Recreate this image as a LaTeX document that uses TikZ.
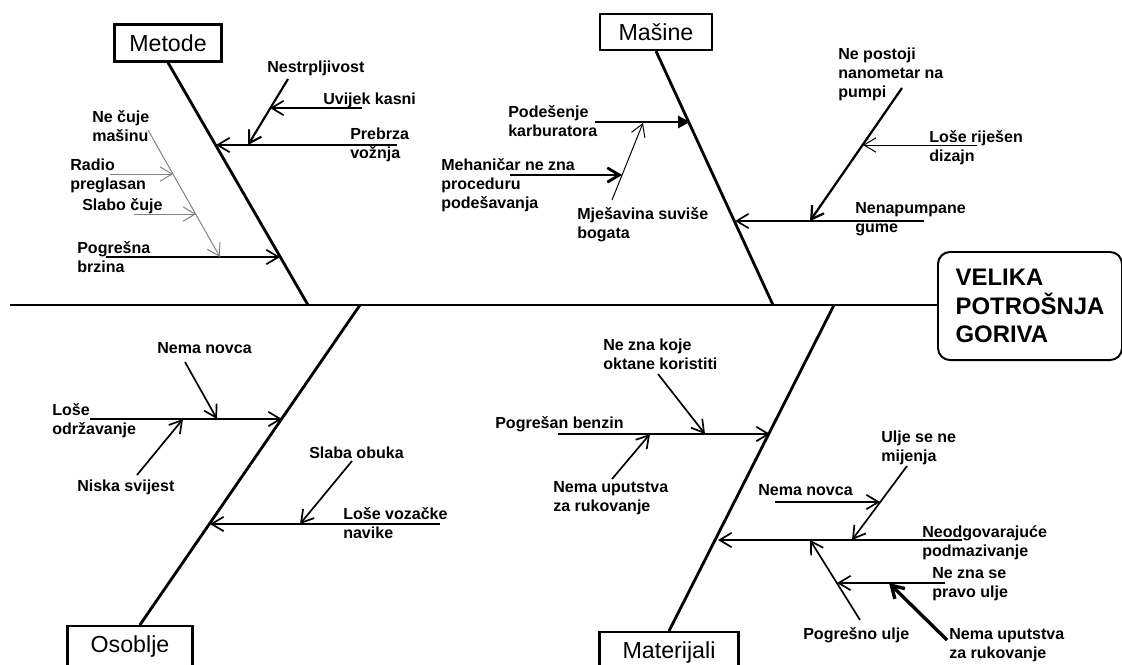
\documentclass[tikz,border=0pt]{standalone}
\usepackage{fontspec}
\setmainfont{Liberation Sans}
\usetikzlibrary{arrows.meta, calc}

\tikzset{
    cat/.style={draw, line width=1.6pt, font=\fontsize{16.5}{19}\selectfont, inner sep=0pt},
    lowcat/.style={cat, anchor=north, text height=0.67cm, text depth=0.5cm},
    lbl/.style={font=\bfseries\fontsize{11.4}{13.7}\selectfont, anchor=base west, align=left, inner sep=0pt},
    lbltwo/.style={lbl, yshift=-13.7pt},
    lblthree/.style={lbl, yshift=-27.4pt},
    spine/.style={line width=2.1pt},
    bone/.style={line width=2pt},
    cause/.style={line width=1.2pt, -{Straight Barb[length=3mm, width=3.6mm]}},
    weak/.style={cause, line width=0.7pt},
    faint/.style={weak, gray},
    heavy/.style={cause, line width=2pt},
}

\begin{document}
\begin{tikzpicture}[x=0.025cm, y=-0.025cm]
    \useasboundingbox (0,0) rectangle (1122,664);
    \clip (0,0) rectangle (1122,664);

    % effect and spine
    \node[draw, line width=1.4pt, rounded corners=3mm, minimum width=4.6cm, minimum height=2.7cm, anchor=west, align=left, font=\bfseries\fontsize{17}{20.5}\selectfont] (effect) at (937,306) {VELIKA\\POTROŠNJA\\GORIVA};
    \coordinate (tail) at (10,305);
    \draw[spine] (tail) -- (tail -| effect.west);

    % categories
    \node[cat, minimum width=2.675cm, minimum height=0.925cm] (metode) at (168,43) {Metode};
    \node[cat, minimum width=2.8cm, minimum height=0.9cm] (masine) at (656,32) {Mašine};
    \node[lowcat, minimum width=3.125cm] (osoblje) at (130,625) {Osoblje};
    \node[lowcat, minimum width=3.475cm] (materijali) at (669,631) {Materijali};

    \coordinate (jMet) at (308,305);
    \coordinate (jMas) at (773,305);
    \coordinate (jOso) at (360,305);
    \coordinate (jMat) at (834,305);
    \draw[bone] (metode.south) -- (jMet);
    \draw[bone] (masine.south) -- (jMas);
    \draw[bone] ([xshift=7pt]osoblje.north) -- (jOso);
    \draw[bone] (materijali.north) -- (jMat);

    % Metode
    \node[lbl] (nestr) at (267,72) {Nestrpljivost};
    \node[lbl] (uvijek) at (323,104) {Uvijek kasni};
    \node[lbltwo] (prebrza) at (350,139) {Prebrza\\vožnja};
    \node[lbltwo] (necuje) at (92,122) {Ne čuje\\mašinu};
    \node[lbltwo] (radio) at (70,170) {Radio\\preglasan};
    \node[lbl] (slabo) at (82,210) {Slabo čuje};
    \node[lbltwo] (pogbrz) at (77,253) {Pogrešna\\brzina};
    \coordinate (prebrza-s) at (397,145);  \coordinate (prebrza-e) at (216,145);
    \coordinate (nestr-s) at (288,79);     \coordinate (nestr-e) at (248,145);
    \coordinate (uvijek-s) at (362,108);   \coordinate (uvijek-e) at (270,108);
    \coordinate (pogbrz-s) at (106,257);   \coordinate (pogbrz-e) at (280,257);
    \coordinate (necuje-s) at (148,130);   \coordinate (necuje-e) at (220,257);
    \coordinate (radio-s) at (110,174);    \coordinate (radio-e) at (173,174);
    \coordinate (slabo-s) at (134,214);    \coordinate (slabo-e) at (196,214);
    \draw[cause] (prebrza-s) -- (prebrza-e);
    \draw[cause, line width=1.5pt] (nestr-s) -- (nestr-e);
    \draw[cause] (uvijek-s) -- (uvijek-e);
    \draw[cause] (pogbrz-s) -- (pogbrz-e);
    \draw[faint] (necuje-s) -- (necuje-e);
    \draw[faint] (radio-s) -- (radio-e);
    \draw[faint] (slabo-s) -- (slabo-e);

    % Masine
    \node[lbltwo] (podes) at (508,117) {Podešenje\\karburatora};
    \node[lblthree] (mehan) at (441,170) {Mehaničar ne zna\\proceduru\\podešavanja};
    \node[lbltwo] (mjes) at (577,219) {Mješavina suviše\\bogata};
    \node[lblthree] (nepost) at (838,59) {Ne postoji\\nanometar na\\pumpi};
    \node[lbltwo] (loserij) at (929,142) {Loše riješen\\dizajn};
    \node[lbltwo] (nenap) at (855,213) {Nenapumpane\\gume};
    \coordinate (podes-s) at (595,122);    \coordinate (podes-e) at (690,122);
    \coordinate (mehan-s) at (510,175);    \coordinate (mehan-e) at (622,175);
    \coordinate (mjes-s) at (612,200);     \coordinate (mjes-e) at (643,123);
    \coordinate (nenap-s) at (924,221);    \coordinate (nenap-e) at (735,221);
    \coordinate (nepost-s) at (902,88);    \coordinate (nepost-e) at (810,221);
    \coordinate (loserij-s) at (977,145);  \coordinate (loserij-e) at (863,145);
    \draw[line width=2pt, -{Triangle[length=3mm, width=3mm]}] (podes-s) -- (podes-e);
    \draw[heavy] (mehan-s) -- (mehan-e);
    \draw[weak] (mjes-s) -- (mjes-e);
    \draw[cause] (nenap-s) -- (nenap-e);
    \draw[cause, line width=1.6pt] (nepost-s) -- (nepost-e);
    \draw[weak] (loserij-s) -- (loserij-e);

    % Osoblje
    \node[lbl] (nemanov) at (157,353) {Nema novca};
    \node[lbltwo] (loseodr) at (52,415) {Loše\\održavanje};
    \node[lbl] (niska) at (77,491) {Niska svijest};
    \node[lbl] (slaba) at (309,458) {Slaba obuka};
    \node[lbltwo] (losevoz) at (343,519) {Loše vozačke\\navike};
    \coordinate (loseodr-s) at (90,419);   \coordinate (loseodr-e) at (282,419);
    \coordinate (nemanov-s) at (185,362);  \coordinate (nemanov-e) at (217,419);
    \coordinate (niska-s) at (137,475);    \coordinate (niska-e) at (183,419);
    \coordinate (losevoz-s) at (440,524);  \coordinate (losevoz-e) at (210,524);
    \coordinate (slaba-s) at (352,461);    \coordinate (slaba-e) at (300,524);
    \draw[cause] (loseodr-s) -- (loseodr-e);
    \draw[cause] (nemanov-s) -- (nemanov-e);
    \draw[cause] (niska-s) -- (niska-e);
    \draw[cause] (losevoz-s) -- (losevoz-e);
    \draw[cause] (slaba-s) -- (slaba-e);

    % Materijali
    \node[lbltwo] (nezna) at (603,350) {Ne zna koje\\oktane koristiti};
    \node[lbl] (pogben) at (495,428) {Pogrešan benzin};
    \node[lbltwo] (nemaupL) at (553,492) {Nema uputstva\\za rukovanje};
    \node[lbl] (nemanovR) at (758,495) {Nema novca};
    \node[lbltwo] (ulje) at (881,442) {Ulje se ne\\mijenja};
    \node[lbltwo] (neodg) at (922,537) {Neodgovarajuće\\podmazivanje};
    \node[lbltwo] (neznase) at (932,578) {Ne zna se\\pravo ulje};
    \node[lbl] (pogul) at (803,639) {Pogrešno ulje};
    \node[lbltwo] (nemaupR) at (949,639) {Nema uputstva\\za rukovanje};
    \coordinate (pogben-s) at (558,434);   \coordinate (pogben-e) at (770,434);
    \coordinate (nezna-s) at (658,374);    \coordinate (nezna-e) at (705,434);
    \coordinate (nemaupL-s) at (612,479);  \coordinate (nemaupL-e) at (650,434);
    \coordinate (neodg-s) at (962,540);    \coordinate (neodg-e) at (718,540);
    \coordinate (nemanovR-s) at (775,502); \coordinate (nemanovR-e) at (880,502);
    \coordinate (ulje-s) at (907,466);     \coordinate (ulje-e) at (852,540);
    \coordinate (pogul-s) at (860,620);    \coordinate (pogul-e) at (810,540);
    \coordinate (neznase-s) at (945,583);  \coordinate (neznase-e) at (837,583);
    \coordinate (nemaupR-s) at (947,640);  \coordinate (nemaupR-e) at (889,583);
    \draw[cause] (pogben-s) -- (pogben-e);
    \draw[cause] (nezna-s) -- (nezna-e);
    \draw[cause] (nemaupL-s) -- (nemaupL-e);
    \draw[cause] (neodg-s) -- (neodg-e);
    \draw[cause] (nemanovR-s) -- (nemanovR-e);
    \draw[cause] (ulje-s) -- (ulje-e);
    \draw[cause] (pogul-s) -- (pogul-e);
    \draw[cause] (neznase-s) -- (neznase-e);
    \draw[heavy, line width=2.4pt] (nemaupR-s) -- (nemaupR-e);
\end{tikzpicture}
\end{document}
